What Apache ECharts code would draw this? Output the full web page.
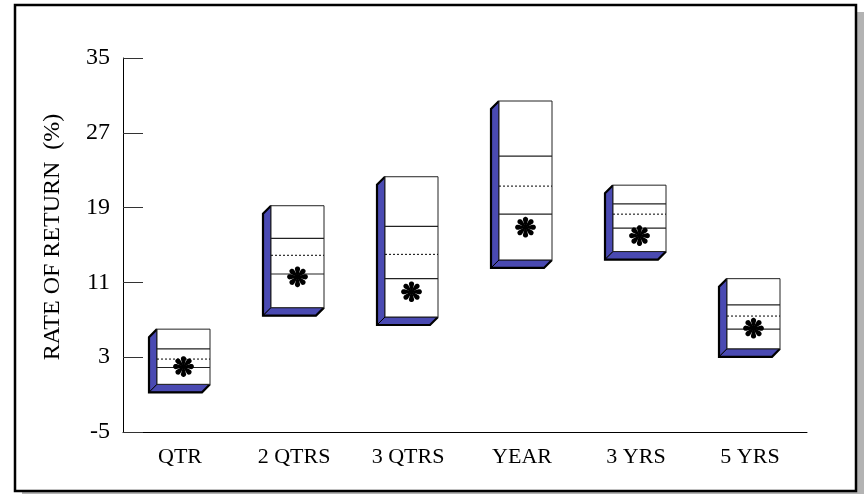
<!DOCTYPE html>
<html>
<head>
<meta charset="utf-8">
<script src="https://cdn.jsdelivr.net/npm/echarts@6.0.0/dist/echarts.min.js"></script>
<style>
html,body{margin:0;padding:0;background:#fff;}
#chart{width:865px;height:494px;}
</style>
</head>
<body>
<div id="chart"></div>
<script>
// ---- data ----
var categories = ['QTR', '2 QTRS', '3 QTRS', 'YEAR', '3 YRS', '5 YRS'];
var highValues   = [6.0, 19.2, 22.3, 30.4, 21.4, 11.4];
var upperValues  = [3.9, 15.7, 17.0, 24.5, 19.4, 8.6];
var medianValues = [2.8, 13.9, 14.0, 21.3, 18.3, 7.4];
var lowerValues  = [1.9, 11.9, 11.4, 18.3, 16.8, 6.0];
var lowValues    = [0.1, 8.3, 7.3, 13.4, 14.3, 3.9];
var fundValues   = [2.0, 11.6, 10.0, 16.9, 16.0, 6.1];
var yTicks = [-5, 3, 11, 19, 27, 35];

var BLUE = '#4a4ab2';
var FONT = '"Liberation Serif", "Times New Roman", serif';

var seriesData = categories.map(function (c, i) {
  return [i, highValues[i], upperValues[i], medianValues[i], lowerValues[i], lowValues[i], fundValues[i]];
});

function asteriskShapes(cx, cy) {
  var shapes = [];
  var R = 2.6, c = 7.8, w = 0.6;
  for (var k = 0; k < 8; k++) {
    var ang = k * Math.PI / 4;
    var ca = Math.cos(ang), sa = Math.sin(ang);
    var local = [[0, -w]];
    for (var a = -110; a <= 110; a += 20) {
      var r = a * Math.PI / 180;
      local.push([c + R * Math.cos(r), R * Math.sin(r)]);
    }
    local.push([0, w]);
    var pts = local.map(function (p) {
      return [cx + p[0] * ca - p[1] * sa, cy + p[0] * sa + p[1] * ca];
    });
    shapes.push({ type: 'polygon', shape: { points: pts }, style: { fill: '#000' } });
  }
  return shapes;
}

function renderItem(params, api) {
  var idx = api.value(0);
  var pTop = api.coord([idx, api.value(1)]);
  var pUp = api.coord([idx, api.value(2)]);
  var pMed = api.coord([idx, api.value(3)]);
  var pLow = api.coord([idx, api.value(4)]);
  var pBot = api.coord([idx, api.value(5)]);
  var pFund = api.coord([idx, api.value(6)]);
  var cx = pTop[0];
  var fl = cx - 23, fr = cx + 30, d = 8;
  var top = pTop[1], bot = pBot[1];
  var fcx = (fl + fr) / 2;
  var children = [
    { type: 'polygon', shape: { points: [[fl, top], [fl - d, top + d], [fl - d, bot + d], [fl, bot]] },
      style: { fill: BLUE, stroke: '#000', lineWidth: 1 } },
    { type: 'polygon', shape: { points: [[fl, bot], [fr, bot], [fr - d, bot + d], [fl - d, bot + d]] },
      style: { fill: BLUE, stroke: '#000', lineWidth: 1 } },
    { type: 'polyline', shape: { points: [[fl, top], [fl - d, top + d], [fl - d, bot + d], [fr - d, bot + d], [fr, bot]] },
      style: { fill: null, stroke: '#000', lineWidth: 2.2 } },
    { type: 'rect', shape: { x: fl, y: top, width: fr - fl, height: bot - top },
      style: { fill: '#fff', stroke: '#222', lineWidth: 1 } },
    { type: 'line', shape: { x1: fl, y1: pUp[1], x2: fr, y2: pUp[1] },
      style: { stroke: '#222', lineWidth: 1.2 } },
    { type: 'line', shape: { x1: fl, y1: pLow[1], x2: fr, y2: pLow[1] },
      style: { stroke: '#222', lineWidth: 1.2 } },
    { type: 'line', shape: { x1: fl, y1: pMed[1], x2: fr, y2: pMed[1] },
      style: { stroke: '#000', lineWidth: 1, lineDash: [2, 2] } }
  ];
  children = children.concat(asteriskShapes(fcx, pFund[1]));
  return { type: 'group', children: children };
}

var chart = echarts.init(document.getElementById('chart'), null, { renderer: 'canvas' });
chart.setOption({
  animation: false,
  backgroundColor: '#fff',
  graphic: [
    { type: 'rect', z: -10, shape: { x: 22, y: 12, width: 842, height: 486 }, style: { fill: '#b3b3b3' } },
    { type: 'rect', z: -9, shape: { x: 15, y: 5, width: 841, height: 486 }, style: { fill: '#fff', stroke: '#000', lineWidth: 2.5 } }
  ],
  grid: { left: 123, right: 58, top: 58, bottom: 62 },
  xAxis: {
    type: 'category',
    data: categories,
    axisLine: { onZero: false, lineStyle: { color: '#000', width: 1 } },
    axisTick: { show: false },
    axisLabel: { color: '#000', fontFamily: FONT, fontSize: 22, margin: 14 },
    splitLine: { show: false }
  },
  yAxis: {
    type: 'value',
    min: -5,
    max: 35,
    name: 'RATE OF RETURN  (%)',
    nameLocation: 'middle',
    nameGap: 58,
    nameRotate: 90,
    nameTextStyle: { color: '#000', fontFamily: FONT, fontSize: 24, padding: [0, 0, 0, 16] },
    axisLine: { show: true, lineStyle: { color: '#000', width: 1 } },
    axisTick: { show: true, inside: true, length: 20, customValues: yTicks, lineStyle: { color: '#333', width: 1 } },
    axisLabel: { color: '#000', fontFamily: FONT, fontSize: 24, margin: 13, customValues: yTicks },
    splitLine: { show: false }
  },
  series: [{
    type: 'custom',
    renderItem: renderItem,
    encode: { x: 0, y: [1, 5] },
    data: seriesData
  }]
});
</script>
</body>
</html>
